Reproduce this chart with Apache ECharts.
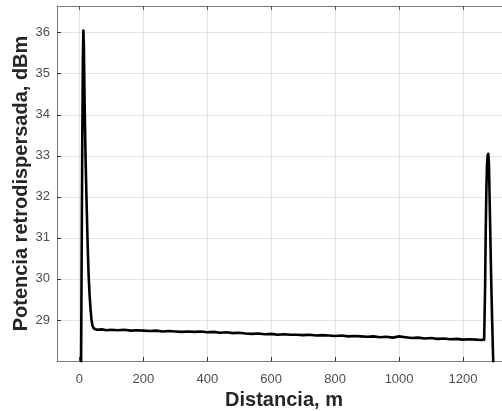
<!DOCTYPE html>
<html>
<head>
<meta charset="utf-8">
<script src="https://cdn.jsdelivr.net/npm/echarts@6/dist/echarts.min.js"></script>
<style>
  html, body { margin: 0; padding: 0; background: #fff; overflow: hidden; }
  #chart { width: 502px; height: 411px; }
</style>
</head>
<body>
<div id="chart"></div>
<script>
// Backscattered power trace along the fibre (OTDR-style)
const distance = [
  5, 7, 9, 11, 12.5, 14, 16.5, 19.5, 23, 26, 29, 32, 35, 38, 41, 45, 50,
  55, 70, 85, 100, 120, 140, 160, 180, 200, 220, 240, 260, 280, 300, 320, 340, 360, 380,
  400, 420, 440, 460, 480, 500, 520, 540, 560, 580, 600, 620, 640, 660, 680, 700, 720,
  740, 760, 780, 800, 820, 840, 860, 880, 900, 920, 940, 960, 980, 1000, 1020, 1040,
  1060, 1080, 1100, 1120, 1140, 1160, 1180, 1200, 1220, 1240, 1255, 1266,
  1267.5, 1269, 1271, 1273, 1275, 1277, 1279, 1281, 1283, 1285, 1288, 1291, 1294, 1297
];
const power = [
  27.4, 30.4, 33.3, 35.4, 36.05, 35.7, 34.2, 32.9, 31.7, 30.8, 30.07, 29.6, 29.25, 29.0, 28.86, 28.79, 28.77,
  28.76, 28.77, 28.75, 28.76, 28.75, 28.76, 28.74, 28.75, 28.74, 28.73, 28.74, 28.72, 28.73, 28.72, 28.71, 28.72, 28.71, 28.72,
  28.70, 28.71, 28.69, 28.70, 28.68, 28.69, 28.67, 28.66, 28.67, 28.65, 28.66, 28.64, 28.65, 28.64, 28.64, 28.63, 28.64,
  28.62, 28.63, 28.62, 28.61, 28.62, 28.60, 28.61, 28.60, 28.59, 28.60, 28.58, 28.59, 28.57, 28.60, 28.58, 28.56,
  28.57, 28.55, 28.56, 28.54, 28.55, 28.53, 28.54, 28.52, 28.53, 28.52, 28.51, 28.52,
  28.55, 29.8, 31.2, 32.2, 32.8, 33.0, 33.05, 32.8, 32.0, 31.2, 30.0, 29.0, 28.1, 27.3
];

const xTicks = [0, 200, 400, 600, 800, 1000, 1200];
const yTicks = [29, 30, 31, 32, 33, 34, 35, 36];

const xRange = [-70, 1350];
const yRange = [28, 36.65];

const fontFamily = '"Liberation Sans", Arial, Helvetica, sans-serif';
const axisColor = '#7a7a7a';
const gridColor = '#e3e3e3';
const labelColor = '#4d4d4d';

const points = distance.map((d, i) => [d, power[i]]);
const plain = v => String(v);

const chart = echarts.init(document.getElementById('chart'), null, { renderer: 'canvas' });

chart.setOption({
  animation: false,
  backgroundColor: '#ffffff',
  grid: { left: 57, top: 6, width: 454, height: 355, containLabel: false, outerBoundsMode: 'none' },
  xAxis: [
    {
      type: 'value',
      position: 'bottom',
      min: xRange[0],
      max: xRange[1],
      name: 'Distancia, m',
      nameLocation: 'middle',
      nameMoveOverlap: false,
      nameGap: 29,
      nameTextStyle: { fontFamily, fontSize: 20, fontWeight: 'bold', color: '#262626' },
      axisLine: { show: true, onZero: false, lineStyle: { color: axisColor, width: 1 } },
      axisTick: { show: true, inside: true, length: 4, customValues: xTicks, lineStyle: { color: '#333', width: 1 } },
      axisLabel: { show: true, customValues: xTicks, formatter: plain, margin: 12, fontFamily, fontSize: 13, color: labelColor },
      splitLine: { show: true, lineStyle: { color: gridColor, width: 1 } }
    },
    {
      type: 'value',
      position: 'top',
      min: xRange[0],
      max: xRange[1],
      axisLine: { show: true, onZero: false, lineStyle: { color: axisColor, width: 1 } },
      axisTick: { show: true, inside: true, length: 4, customValues: xTicks, lineStyle: { color: '#555', width: 1 } },
      axisLabel: { show: false },
      splitLine: { show: false }
    }
  ],
  yAxis: {
    type: 'value',
    min: yRange[0],
    max: yRange[1],
    name: 'Potencia retrodispersada, dBm',
    nameLocation: 'middle',
    nameMoveOverlap: false,
    nameGap: 26,
    nameTextStyle: { fontFamily, fontSize: 20, fontWeight: 'bold', color: '#262626' },
    axisLine: { show: true, onZero: false, lineStyle: { color: axisColor, width: 1 } },
    axisTick: { show: true, inside: true, length: 4, customValues: yTicks, lineStyle: { color: '#333', width: 1 } },
    axisLabel: { show: true, customValues: yTicks, formatter: plain, margin: 7, fontFamily, fontSize: 13, color: labelColor },
    splitLine: { show: true, lineStyle: { color: gridColor, width: 1 } }
  },
  series: [
    {
      type: 'line',
      xAxisIndex: 0,
      data: points,
      showSymbol: false,
      clip: true,
      lineStyle: { color: '#000000', width: 2.6, join: 'round', cap: 'round' }
    }
  ]
});
</script>
</body>
</html>
